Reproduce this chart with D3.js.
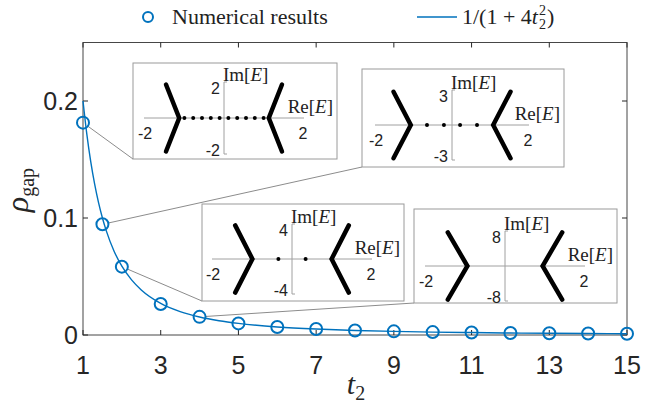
<!DOCTYPE html>
<html>
<head>
<meta charset="utf-8">
<script src="https://cdn.jsdelivr.net/npm/d3@7"></script>
<style>
  html, body { margin: 0; padding: 0; background: #fff; }
  svg { display: block; }
</style>
</head>
<body>
<svg id="chart" width="647" height="405"></svg>
<script>
// Numerically computed gap density
const tNum = [1, 1.5, 2, 3, 4, 5, 6, 7, 8, 9, 10, 11, 12, 13, 14, 15];
const rhoNum = [0.1815, 0.0946, 0.0584, 0.0265, 0.0155, 0.0099, 0.0069, 0.0051,
                0.0039, 0.0031, 0.0025, 0.0021, 0.0017, 0.0015, 0.0013, 0.0011];

// Analytic curve 1/(1+4 t2^2), tabulated
const tFit = [1, 1.1, 1.2, 1.3, 1.4, 1.5, 1.6, 1.8, 2, 2.25, 2.5, 3, 3.5, 4, 4.5,
              5, 6, 7, 8, 9, 10, 11, 12, 13, 14, 15];
const rhoFit = [0.2, 0.1712, 0.1479, 0.1289, 0.1131, 0.1, 0.0890, 0.0716, 0.0588,
                0.0471, 0.0385, 0.0270, 0.0200, 0.0154, 0.0122, 0.0099, 0.0069,
                0.0051, 0.0039, 0.0031, 0.0025, 0.0021, 0.0017, 0.0015, 0.0013, 0.0011];

const xTicks = [1, 3, 5, 7, 9, 11, 13, 15];
const yTicks = [0, 0.1, 0.2];
const yTickLabels = ["0", "0.1", "0.2"];

// Spectra shown in the insets (one per highlighted t2)
const insetPoint = [0, 1, 2, 4];          // index into tNum
const insetImMax = [2, 3, 4, 8];          // Im[E] axis limit
const insetVertex = [1.12, 1.07, 0.99, 0.94];   // |Re E| of branch vertex
const insetTipRe = [1.45, 1.52, 1.42, 1.43];    // |Re E| of branch ends
const insetTipIm = [0.93, 0.95, 0.96, 0.96];    // branch end Im as a fraction of limit
const insetDots = [
  [-0.99, -0.77, -0.55, -0.33, -0.11, 0.11, 0.33, 0.55, 0.77, 0.99],
  [-0.65, -0.21, 0.21, 0.65],
  [-0.34, 0.34],
  []
];

const blue = "#0072BD";
const axisCol = "#262626";
const sans = "'Liberation Sans', Arial, Helvetica, sans-serif";
const serif = "'Liberation Serif', 'Times New Roman', serif";

const svg = d3.select("#chart");

const x = d3.scaleLinear().domain([1, 15]).range([83, 627]);
const y = d3.scaleLinear().domain([0, 0.25]).range([335, 42.5]);

// ---- axes box with inward ticks ----
const g = svg.append("g");
const [x0, x1] = x.range();
const [yb, yt] = y.range();

g.append("rect")
  .attr("x", x0).attr("y", yt).attr("width", x1 - x0).attr("height", yb - yt)
  .attr("fill", "none").attr("stroke", axisCol).attr("stroke-width", 1).attr("opacity", 0.85);

const tickLen = 5;
xTicks.forEach(v => {
  g.append("line").attr("x1", x(v)).attr("x2", x(v)).attr("y1", yb).attr("y2", yb - tickLen)
    .attr("stroke", axisCol);
  g.append("line").attr("x1", x(v)).attr("x2", x(v)).attr("y1", yt).attr("y2", yt + tickLen)
    .attr("stroke", axisCol);
});
yTicks.forEach(v => {
  g.append("line").attr("x1", x0).attr("x2", x0 + tickLen).attr("y1", y(v)).attr("y2", y(v))
    .attr("stroke", axisCol);
  g.append("line").attr("x1", x1).attr("x2", x1 - tickLen).attr("y1", y(v)).attr("y2", y(v))
    .attr("stroke", axisCol);
});

g.selectAll(".xt").data(xTicks).join("text")
  .attr("x", d => x(d)).attr("y", 374)
  .attr("text-anchor", "middle")
  .attr("font-family", sans).attr("font-size", 25).attr("fill", axisCol)
  .text(d => d);

g.selectAll(".yt").data(yTicks).join("text")
  .attr("x", 78).attr("y", d => y(d) + 9)
  .attr("text-anchor", "end")
  .attr("font-family", sans).attr("font-size", 25).attr("fill", axisCol)
  .text((d, i) => yTickLabels[i]);

// axis titles
const xl = svg.append("text").attr("x", 356).attr("y", 394)
  .attr("text-anchor", "middle").attr("font-family", serif).attr("fill", axisCol);
xl.append("tspan").attr("font-style", "italic").attr("font-size", 30).text("t");
xl.append("tspan").attr("font-size", 20).attr("dy", 6).text("2");

const yl = svg.append("text")
  .attr("transform", "translate(28,190) rotate(-90)")
  .attr("text-anchor", "middle").attr("font-family", serif).attr("fill", axisCol);
yl.append("tspan").attr("font-style", "italic").attr("font-size", 32).text("ρ");
yl.append("tspan").attr("font-size", 20).attr("dy", 6).text("gap");

// ---- insets ----
const insetBox = [
  { x: 133, y: 63, w: 204, h: 96, ox: 224, oy: 118, reHalf: 80, imHalf: 36 },
  { x: 362, y: 69, w: 202, h: 98, ox: 452, oy: 125, reHalf: 77, imHalf: 35 },
  { x: 202, y: 204, w: 202, h: 97, ox: 292, oy: 259, reHalf: 80, imHalf: 35 },
  { x: 414, y: 209, w: 203, h: 94, ox: 505, oy: 266, reHalf: 80, imHalf: 35 }
];

// connectors from each highlighted point to its inset's lower-left corner
const r = 6;
insetBox.forEach((b, i) => {
  const k = insetPoint[i];
  const px = x(tNum[k]), py = y(rhoNum[k]);
  const dx = b.x - px, dy = (b.y + b.h) - py;
  const L = Math.hypot(dx, dy);
  svg.append("line")
    .attr("x1", px + dx / L * r).attr("y1", py + dy / L * r)
    .attr("x2", b.x).attr("y2", b.y + b.h)
    .attr("stroke", "#8c8c8c").attr("stroke-width", 1);
});

// analytic curve
const line = d3.line().x(d => x(d[0])).y(d => y(d[1])).curve(d3.curveMonotoneX);
svg.append("path")
  .datum(tFit.map((t, i) => [t, rhoFit[i]]))
  .attr("d", line)
  .attr("fill", "none").attr("stroke", blue).attr("stroke-width", 1.4);

// numerical markers
svg.selectAll(".pt").data(tNum.map((t, i) => [t, rhoNum[i]])).join("circle")
  .attr("cx", d => x(d[0])).attr("cy", d => y(d[1])).attr("r", r)
  .attr("fill", "none").attr("stroke", blue).attr("stroke-width", 2);

insetBox.forEach((b, i) => {
  const gi = svg.append("g");
  gi.append("rect").attr("x", b.x).attr("y", b.y).attr("width", b.w).attr("height", b.h)
    .attr("fill", "#fff").attr("stroke", "#9a9a9a").attr("stroke-width", 1);

  const im = insetImMax[i];
  const sx = d3.scaleLinear().domain([-2, 2]).range([b.ox - b.reHalf, b.ox + b.reHalf]);
  const sy = d3.scaleLinear().domain([-im, im]).range([b.oy + b.imHalf, b.oy - b.imHalf]);

  // inner axes
  gi.append("line").attr("x1", sx(-2)).attr("x2", sx(2)).attr("y1", sy(0)).attr("y2", sy(0))
    .attr("stroke", "#a0a0a0").attr("stroke-width", 1);
  gi.append("line").attr("x1", sx(0)).attr("x2", sx(0)).attr("y1", sy(im)).attr("y2", sy(-im))
    .attr("stroke", "#a0a0a0").attr("stroke-width", 1);
  [im, -im].forEach(v => {
    gi.append("line").attr("x1", sx(0)).attr("x2", sx(0) + 3).attr("y1", sy(v)).attr("y2", sy(v))
      .attr("stroke", "#a0a0a0").attr("stroke-width", 1);
  });

  // spectral branches
  const v = insetVertex[i], tr = insetTipRe[i], ti = insetTipIm[i] * im;
  [-1, 1].forEach(s => {
    gi.append("path")
      .datum([[s * tr, ti], [s * v, 0], [s * tr, -ti]])
      .attr("d", d3.line().x(d => sx(d[0])).y(d => sy(d[1])))
      .attr("fill", "none").attr("stroke", "#000").attr("stroke-width", 4.5)
      .attr("stroke-linecap", "round").attr("stroke-linejoin", "miter");
  });
  gi.selectAll(".dot").data(insetDots[i]).join("circle")
    .attr("cx", d => sx(d)).attr("cy", sy(0)).attr("r", 2).attr("fill", "#000");

  // labels
  const lab = (tx, ty, txt, anchor) => gi.append("text").attr("x", tx).attr("y", ty)
    .attr("text-anchor", anchor).attr("font-family", sans).attr("font-size", 16)
    .attr("fill", "#222").text(txt);
  lab(sx(0) - 4, sy(im) + 12, String(im), "end");
  lab(sx(0) - 4, sy(-im) + 2, String(-im), "end");
  lab(sx(-2) + 1, sy(0) + 21, "-2", "middle");
  lab(sx(2) - 1, sy(0) + 21, "2", "middle");

  const imT = gi.append("text").attr("x", sx(0) - 1).attr("y", sy(im) - 1)
    .attr("font-family", serif).attr("font-size", 19).attr("fill", "#222");
  imT.append("tspan").text("Im[");
  imT.append("tspan").attr("font-style", "italic").text("E");
  imT.append("tspan").text("]");

  const reT = gi.append("text").attr("x", b.x + b.w - 4).attr("y", sy(0) - 5)
    .attr("text-anchor", "end")
    .attr("font-family", serif).attr("font-size", 19).attr("fill", "#222");
  reT.append("tspan").text("Re[");
  reT.append("tspan").attr("font-style", "italic").text("E");
  reT.append("tspan").text("]");
});

// ---- legend ----
const lg = svg.append("g");
lg.append("circle").attr("cx", 148).attr("cy", 17).attr("r", 5)
  .attr("fill", "none").attr("stroke", blue).attr("stroke-width", 2);
lg.append("text").attr("x", 172).attr("y", 24)
  .attr("font-family", serif).attr("font-size", 22).attr("fill", "#222")
  .text("Numerical results");
lg.append("line").attr("x1", 417).attr("x2", 457).attr("y1", 17).attr("y2", 17)
  .attr("stroke", blue).attr("stroke-width", 1.4);

const f = lg.append("text").attr("x", 462).attr("y", 24)
  .attr("font-family", serif).attr("font-size", 22).attr("fill", "#222");
f.append("tspan").text("1/(1 + 4");
f.append("tspan").attr("font-style", "italic").text("t");
const fw = f.node().getComputedTextLength();
lg.append("text").attr("x", 462 + fw + 1).attr("y", 29)
  .attr("font-family", serif).attr("font-size", 14).attr("fill", "#222").text("2");
lg.append("text").attr("x", 462 + fw + 1).attr("y", 15)
  .attr("font-family", serif).attr("font-size", 14).attr("fill", "#222").text("2");
lg.append("text").attr("x", 462 + fw + 9).attr("y", 24)
  .attr("font-family", serif).attr("font-size", 22).attr("fill", "#222").text(")");
</script>
</body>
</html>
